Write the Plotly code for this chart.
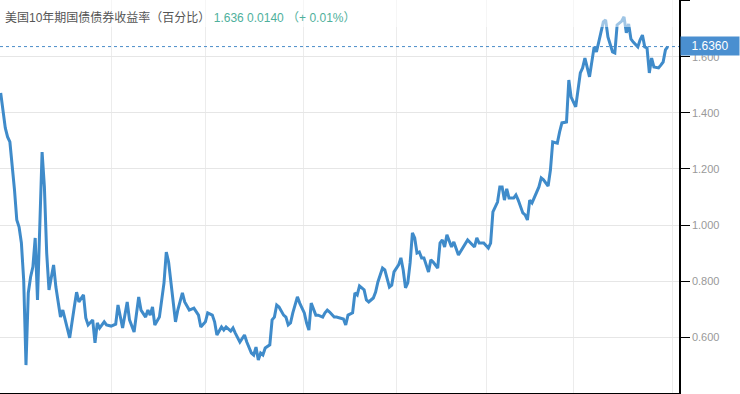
import plotly.graph_objects as go

# trading-day index and 10Y yield (%)
days = [0, 2, 3, 4, 6, 7, 8, 9, 10, 11, 12, 13, 14, 15, 16, 17, 18, 19, 20, 21,
        23, 24, 26, 27, 29, 30, 32, 33, 34, 36, 37, 38, 40, 41, 42, 43, 45, 46, 48, 50,
        51, 53, 55, 56, 58, 60, 61, 63, 64, 65, 66, 67, 69, 71, 72, 73, 76, 77, 79, 80,
        82, 84, 86, 87, 89, 90, 92, 93, 94, 96, 97, 98, 100, 101, 102, 104, 106, 107, 109, 110,
        111, 112, 113, 114, 115, 117, 118, 119, 120, 121, 123, 124, 125, 126, 127, 129, 130, 132, 133, 134,
        135, 136, 137, 138, 140, 141, 142, 143, 145, 146, 147, 149, 150, 151, 153, 154, 155, 156, 157, 158,
        159, 160, 162, 163, 164, 166, 167, 168, 169, 170, 171, 173, 174, 175, 176, 177, 178, 179, 180, 181,
        182, 183, 184, 186, 187, 188, 190, 191, 192, 193, 194, 196, 197, 199, 201, 203, 206, 207, 208, 210,
        212, 213, 214, 216, 217, 218, 219, 220, 221, 223, 224, 225, 227, 228, 229, 230, 231, 233, 234, 235,
        236, 238, 239, 240, 242, 243, 244, 246, 247, 248, 250, 252, 253, 254, 256, 258, 259, 260, 262, 263,
        264, 266, 267, 268, 270, 271, 272, 273, 274, 275, 277, 278, 279, 280, 281, 282, 283, 284, 286, 287,
        288, 289, 290]
yields = [1.471, 1.346, 1.314, 1.296, 1.125, 1.018, 0.993, 0.936, 0.804, 0.501, 0.758, 0.815, 0.851, 0.954, 0.733, 0.982, 1.260, 1.136, 0.900, 0.769,
          0.858, 0.779, 0.672, 0.697, 0.637, 0.598, 0.708, 0.761, 0.726, 0.751, 0.669, 0.644, 0.662, 0.580, 0.651, 0.633, 0.655, 0.644, 0.640, 0.647,
          0.715, 0.633, 0.726, 0.662, 0.619, 0.744, 0.697, 0.672, 0.697, 0.679, 0.708, 0.644, 0.672, 0.794, 0.904, 0.868, 0.655, 0.697, 0.758, 0.726,
          0.697, 0.704, 0.679, 0.637, 0.655, 0.687, 0.679, 0.655, 0.608, 0.637, 0.626, 0.637, 0.622, 0.633, 0.615, 0.583, 0.608, 0.583, 0.544, 0.537,
          0.565, 0.519, 0.544, 0.537, 0.562, 0.573, 0.662, 0.672, 0.715, 0.708, 0.679, 0.672, 0.644, 0.651, 0.687, 0.744, 0.722, 0.687, 0.651, 0.626,
          0.722, 0.697, 0.679, 0.679, 0.672, 0.687, 0.697, 0.690, 0.672, 0.672, 0.669, 0.665, 0.644, 0.679, 0.687, 0.758, 0.751, 0.783, 0.776, 0.769,
          0.733, 0.726, 0.740, 0.761, 0.797, 0.847, 0.840, 0.804, 0.779, 0.786, 0.833, 0.858, 0.883, 0.840, 0.776, 0.794, 0.865, 0.972, 0.954, 0.900,
          0.904, 0.883, 0.883, 0.833, 0.876, 0.868, 0.847, 0.936, 0.947, 0.922, 0.965, 0.922, 0.940, 0.893, 0.922, 0.947, 0.922, 0.954, 0.936, 0.936,
          0.918, 0.936, 1.047, 1.082, 1.136, 1.136, 1.089, 1.129, 1.096, 1.096, 1.107, 1.089, 1.043, 1.036, 1.018, 1.089, 1.079, 1.118, 1.136, 1.168,
          1.161, 1.139, 1.196, 1.296, 1.292, 1.332, 1.364, 1.367, 1.517, 1.456, 1.421, 1.542, 1.560, 1.595, 1.528, 1.635, 1.617, 1.652, 1.724, 1.731,
          1.670, 1.617, 1.613, 1.713, 1.727, 1.742, 1.685, 1.717, 1.663, 1.652, 1.635, 1.660, 1.677, 1.635, 1.631, 1.542, 1.595, 1.563, 1.560, 1.570,
          1.581, 1.624, 1.636]

month_ticks = [48.0, 89.1, 131.6, 172.2, 211.3, 249.0, 292.2]
y_ticks = [0.6, 0.8, 1.0, 1.2, 1.4, 1.6, 1.8]
last_value = 1.636
title_text = "美国10年期国债债券收益率（百分比）"
quote_text = "1.636 0.0140 （+ 0.01%）"

FONT = "Arial, 'Liberation Sans', 'Noto Sans CJK SC', sans-serif"
LINE = "#3f8bca"

fig = go.Figure()
fig.add_trace(go.Scatter(x=days, y=yields, mode="lines",
                         line=dict(color=LINE, width=3), hoverinfo="skip"))

fig.add_hline(y=last_value, line=dict(color="#4a8cc8", width=1, dash="dot"))

# semi-transparent header band
fig.add_shape(type="rect", xref="paper", yref="paper", x0=0, x1=1, y0=0.931, y1=1,
              fillcolor="rgba(255,255,255,0.5)", line=dict(width=0), layer="above")

fig.add_annotation(xref="paper", yref="paper", x=0, y=1, xanchor="left", yanchor="middle",
                   xshift=3, yshift=-17, showarrow=False, align="left",
                   text=f"<span style='color:#555555'>{title_text}</span> "
                        f"<span style='color:#4fb09c'>{quote_text}</span>",
                   font=dict(family=FONT, size=12))

fig.add_annotation(xref="paper", yref="y", x=1, y=last_value, xanchor="left", yanchor="middle",
                   xshift=1, yshift=1, showarrow=False, text=f"{last_value:.4f}",
                   bgcolor="#4a8fd0", font=dict(family=FONT, size=12, color="white"),
                   width=54, height=14, borderpad=2, align="center")

fig.update_layout(
    width=740, height=394,
    margin=dict(l=0, r=61, t=0, b=1),
    paper_bgcolor="white", plot_bgcolor="white",
    showlegend=False,
    xaxis=dict(range=[-0.3, 294.9], tickvals=month_ticks, showticklabels=False,
               showgrid=True, gridcolor="#ececec", gridwidth=1, zeroline=False,
               showline=True, linecolor="black", linewidth=1.5, ticks=""),
    yaxis=dict(range=[0.4015, 1.802], side="right", tickvals=y_ticks, tickformat=".3f",
               showgrid=True, gridcolor="#e6e6e6", gridwidth=1, zeroline=False,
               showline=True, linecolor="black", linewidth=1.5,
               ticks="outside", ticklen=9, tickcolor="black", tickwidth=1,
               tickfont=dict(family=FONT, size=11, color="#999999")),
)

fig.write_html("out.html", config={"displayModeBar": False},
               post_script="document.body.style.margin='0';document.body.style.overflow='hidden';")
